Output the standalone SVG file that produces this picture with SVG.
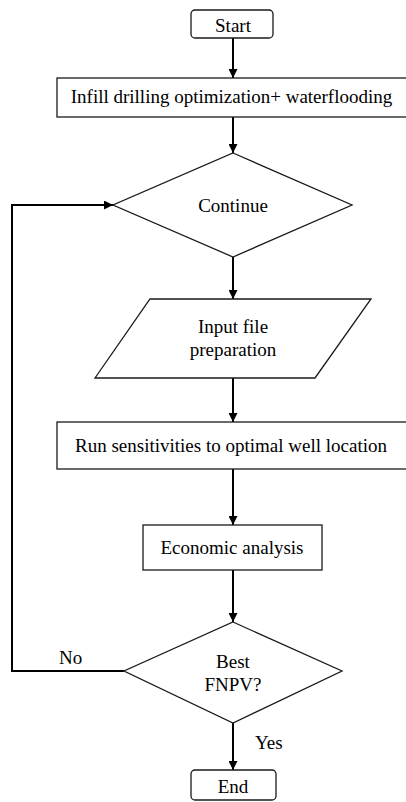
<svg xmlns="http://www.w3.org/2000/svg" width="406" height="802" viewBox="0 0 406 802">
<style>
.shape{fill:#fff;stroke:#1a1a1a;stroke-width:1.3}
.conn{fill:none;stroke:#000;stroke-width:2}
.t{font-family:'Liberation Serif','DejaVu Serif','Times New Roman',serif;font-size:19px;fill:#000;text-anchor:middle}
.lbl{text-anchor:start}
</style>
<defs>
<marker id="arr" viewBox="0 0 10 10" refX="10" refY="5" markerWidth="4.5" markerHeight="4.5" orient="auto" markerUnits="strokeWidth">
<path d="M0,0 L10,5 L0,10 z" fill="#000"/>
</marker>
</defs>
<rect width="406" height="802" fill="#fff"/>
<g id="connectors">
<line class="conn" x1="233" y1="38" x2="233" y2="78" marker-end="url(#arr)"/>
<line class="conn" x1="233" y1="117" x2="233" y2="153" marker-end="url(#arr)"/>
<line class="conn" x1="233" y1="257" x2="233" y2="299" marker-end="url(#arr)"/>
<line class="conn" x1="233" y1="378" x2="233" y2="422" marker-end="url(#arr)"/>
<line class="conn" x1="233" y1="469" x2="233" y2="525" marker-end="url(#arr)"/>
<line class="conn" x1="233" y1="570" x2="233" y2="622" marker-end="url(#arr)"/>
<line class="conn" x1="233" y1="723" x2="233" y2="770" marker-end="url(#arr)"/>
<polyline class="conn" points="124,671 12,671 12,205 113,205" marker-end="url(#arr)"/>
<text class="t lbl" font-family="Liberation Serif, serif" x="59" y="664">No</text>
<text class="t lbl" font-family="Liberation Serif, serif" x="255" y="749">Yes</text>
</g>
<g id="start">
<rect class="shape" x="191" y="10" width="82" height="28" rx="4"/>
<text class="t" x="233" y="32">Start</text>
</g>
<g id="infill">
<rect class="shape" x="57" y="78" width="360" height="39"/>
<text class="t" x="231.5" y="103">Infill drilling optimization+ waterflooding</text>
</g>
<g id="continue">
<polygon class="shape" points="233,153 352,205 233,257 113,205"/>
<text class="t" x="233" y="212">Continue</text>
</g>
<g id="input">
<polygon class="shape" points="150,299 371,299 315,378 95,378"/>
<text class="t" x="233" y="333">Input file</text>
<text class="t" x="233" y="356">preparation</text>
</g>
<g id="run">
<rect class="shape" x="57" y="422" width="360" height="47"/>
<text class="t" x="231" y="452">Run sensitivities to optimal well location</text>
</g>
<g id="economic">
<rect class="shape" x="143" y="525" width="179" height="45"/>
<text class="t" x="232" y="554">Economic analysis</text>
</g>
<g id="best">
<polygon class="shape" points="233,622 342,671 233,723 124,671"/>
<text class="t" x="233" y="668">Best</text>
<text class="t" x="233" y="691">FNPV?</text>
</g>
<g id="end">
<rect class="shape" x="191" y="770" width="85" height="30" rx="4"/>
<text class="t" x="233" y="793">End</text>
</g>
</svg>
